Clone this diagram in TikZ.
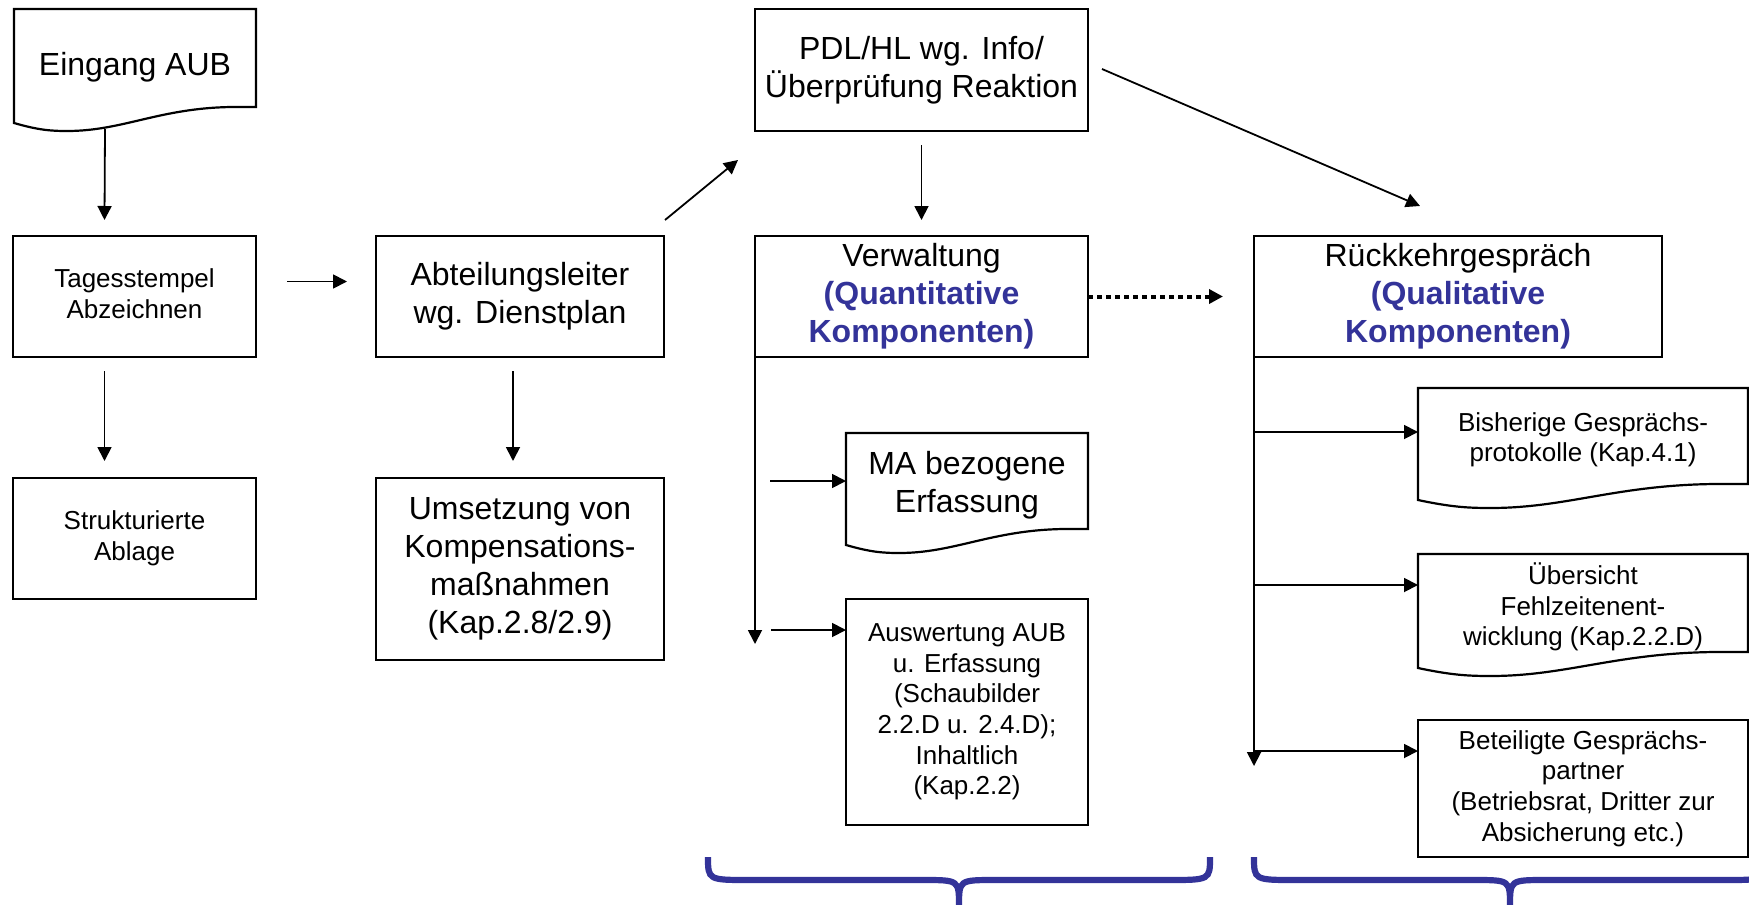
\documentclass[tikz,border=0pt]{standalone}
\usepackage{fontspec}
\setmainfont{Liberation Sans}
\usetikzlibrary{arrows.meta,calc}
\definecolor{kblue}{RGB}{51,51,153}
\newcommand\fbig{\fontsize{16}{19}\selectfont}
\newcommand\fsmall{\fontsize{13}{15.3}\selectfont}
% document shape outline: the node spans top .. bottom edge + 8px
\newcommand\docout[1]{%
  \draw[boxline] ($(#1.south east)+(0,-8)$) -- (#1.north east) -- (#1.north west) -- ($(#1.south west)+(0,8)$)
    .. controls ($(#1.south west)!0.1!(#1.south east)+(0,15)$) and ($(#1.south west)!0.15!(#1.south east)+(0,16)$) .. ($(#1.south west)!0.22!(#1.south east)+(0,16)$)
    .. controls ($(#1.south west)!0.45!(#1.south east)+(0,16)$) and ($(#1.south west)!0.6!(#1.south east)+(0,-7)$) .. ($(#1.south west)!0.9!(#1.south east)+(0,-8)$) -- cycle;}
\newcommand\kbrace[3]{%
  \draw[brace] (#1,857) .. controls (#1,880) .. ($(#1,880)+(42,0)$) -- ($(#3,880)+(-36,0)$)
    .. controls (#3,880) .. (#3,906) .. controls (#3,880) .. ($(#3,880)+(36,0)$) -- ($(#2,880)+(-42,0)$)
    .. controls (#2,880) .. (#2,857);}
\tikzset{
  boxline/.style={line width=1.1pt},
  big/.style={font=\fbig, execute at begin node={\rule{0pt}{16.5pt}}, execute at end node={\rule[-3.4pt]{0pt}{3.4pt}}},
  small/.style={font=\fsmall, execute at begin node={\rule{0pt}{13.8pt}}, execute at end node={\rule[-2.8pt]{0pt}{2.8pt}}},
  box/.style={draw, boxline, inner sep=0pt, outer sep=0pt, align=center},
  docnode/.style={inner sep=0pt, outer sep=0pt, align=center},
  arr/.style={-{Triangle[length=7pt,width=7pt]}, line width=0.9pt},
  dotarr/.style={-{Triangle[length=7pt,width=7pt]}, line width=2pt, dash pattern=on 2.5pt off 2pt},
  brace/.style={draw=kblue, line width=3.1pt}
}
\begin{document}
\begin{tikzpicture}[x=0.5pt,y=-0.5pt]
\useasboundingbox (0,0) rectangle (1749,904);
% nodes
\node[docnode, big, minimum width=121pt, minimum height=53pt] (eing) at (135,62) {Eingang AUB};
\node[box, small, minimum width=121.5pt, minimum height=60.5pt] (tag) at (134.5,296.5) {Tagesstempel\\Abzeichnen};
\node[box, small, minimum width=121.5pt, minimum height=60.5pt] (str) at (134.5,538.5) {Strukturierte\\Ablage};
\node[box, big, minimum width=144pt, minimum height=60.5pt] (abt) at (520,296.5) {Abteilungsleiter\\wg. Dienstplan};
\node[box, big, minimum width=144pt, minimum height=91pt] (ums) at (520,569) {Umsetzung von\\Kompensations-\\maßnahmen\\(Kap.2.8/2.9)};
\node[box, big, minimum width=166.5pt, minimum height=61pt] (pdl) at (921.5,70) {PDL/HL wg. Info/\\Überprüfung Reaktion};
\node[box, big, minimum width=166.5pt, minimum height=60.5pt] (ver) at (921.5,296.5) {Verwaltung\\\textcolor{kblue}{\bfseries (Quantitative}\\\textcolor{kblue}{\bfseries Komponenten)}};
\node[box, big, minimum width=204pt, minimum height=60.5pt] (rue) at (1458,296.5) {Rückkehrgespräch\\\textcolor{kblue}{\bfseries (Qualitative}\\\textcolor{kblue}{\bfseries Komponenten)}};
\node[docnode, big, minimum width=121pt, minimum height=52pt] (ma) at (967,485) {MA bezogene\\Erfassung};
\node[box, small, minimum width=121pt, minimum height=113pt, execute at begin node={\rule{0pt}{16pt}}] (ausw) at (967,712) {Auswertung AUB\\u. Erfassung\\(Schaubilder\\2.2.D u. 2.4.D);\\Inhaltlich\\(Kap.2.2)};
\node[docnode, small, minimum width=165pt, minimum height=52pt] (bis) at (1583,440) {Bisherige Gesprächs-\\protokolle (Kap.4.1)};
\node[docnode, small, minimum width=165pt, minimum height=53pt, execute at begin node={\rule{0pt}{11.8pt}}] (ueb) at (1583,607) {Übersicht\\Fehlzeitenent-\\wicklung (Kap.2.2.D)};
\node[box, small, minimum width=165pt, minimum height=68.5pt] (bet) at (1583,788.5) {Beteiligte Gesprächs-\\partner\\(Betriebsrat, Dritter zur\\Absicherung etc.)};
% document outlines
\docout{eing}
\docout{ma}
\docout{bis}
\docout{ueb}
% connectors
\draw[arr] ($(eing.south)+(-30,14)$) -- ($(tag.north)+(-30,-16)$);
\draw[arr] ($(tag.south)+(-30,14)$) -- ($(str.north)+(-30,-17)$);
\draw[arr] ($(tag.east)+(31,-15)$) -- ($(abt.west)+(-29,-15)$);
\draw[arr] ($(abt.south)+(-7,14)$) -- ($(ums.north)+(-7,-17)$);
\draw[arr] ($(abt.north east)+(1,-16)$) -- ($(pdl.south west)+(-17,29)$);
\draw[arr] ($(pdl.south)+(0,14)$) -- ($(ver.north)+(0,-16)$);
\draw[arr] ($(pdl.east)+(14,-1)$) -- ($(rue.north)+(-38,-30)$);
\draw[dotarr] (ver.east) -- ($(rue.west)+(-31,0)$);
% Verwaltung branch
\coordinate (vend) at ($(ver.south west)+(0,287)$);
\draw[arr] (ver.south west) -- (vend);
\draw[arr] ($(ma.west)+(-76,-4)$) -- ($(ma.west)+(0,-4)$);
\draw[arr] ($(ausw.north west)+(-75,31)$) -- ($(ausw.north west)+(0,31)$);
% Rueckkehr branch
\coordinate (rend) at ($(rue.south west)+(0,409)$);
\draw[arr] (rue.south west) -- (rend);
\coordinate (b1) at ($(bis.north west)+(0,44)$);
\coordinate (b2) at ($(ueb.north west)+(0,31)$);
\coordinate (b3) at ($(bet.north west)+(0,31)$);
\draw[arr] (rue.south west |- b1) -- (b1);
\draw[arr] (rue.south west |- b2) -- (b2);
\draw[arr] (rue.south west |- b3) -- (b3);
% braces
\kbrace{708}{1210}{959}
\kbrace{1254}{1766}{1510}
\end{tikzpicture}
\end{document}
